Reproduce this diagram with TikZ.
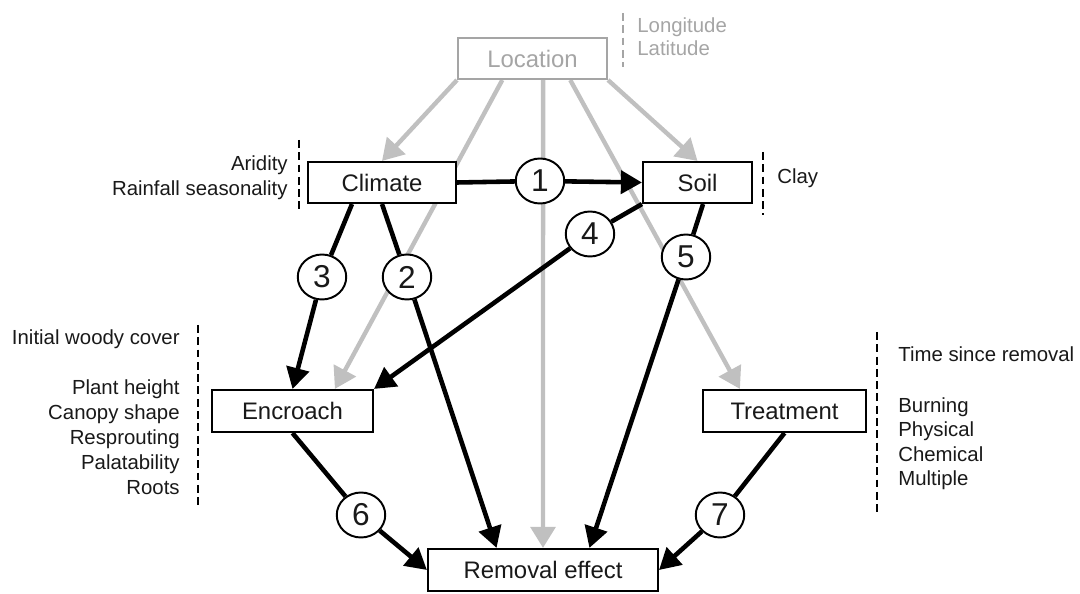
\documentclass[tikz,border=0pt]{standalone}
\usepackage{fontspec}
\setmainfont{Liberation Sans}
\usetikzlibrary{arrows.meta,calc,shapes.geometric}
\pgfdeclarelayer{background}
\pgfsetlayers{background,main}
\definecolor{lgrey}{RGB}{192,192,192}
\definecolor{tgrey}{RGB}{165,165,165}
\definecolor{txt}{RGB}{25,25,25}
\begin{document}
\begin{tikzpicture}[x=0.02cm,y=-0.02cm,
 box/.style={draw=black, line width=1.2pt, fill=white, inner sep=0pt, minimum height=0.82cm, font=\fontsize{13.6}{16}\selectfont, text=txt},
 num/.style={ellipse, draw=black, line width=1.1pt, fill=white, minimum width=0.97cm, minimum height=0.9cm, inner sep=0pt, font=\fontsize{18}{20}\selectfont, text=txt},
 blk/.style={line width=2.6pt, draw=black},
 blkarr/.style={blk, -{Triangle[length=12pt,width=13pt]}},
 gry/.style={line width=2.5pt, draw=lgrey},
 gryarr/.style={gry, -{Triangle[length=12pt,width=14pt]}},
 side/.style={inner sep=0pt, font=\fontsize{11.6}{14}\selectfont, text=txt, text height=9pt, text depth=1pt},
 dsh/.style={line width=1.2pt, dash pattern=on 4.5pt off 2.5pt},
]
\useasboundingbox (0,0) rectangle (1080,594);

% boxes
\node[box, draw=tgrey, text=tgrey, minimum width=2.98cm] (location) at (532.5,58.5) {Location};
\node[box, minimum width=2.96cm] (climate) at (382,182.5) {Climate};
\node[box, minimum width=2.18cm] (soil) at (697.5,182.5) {Soil};
\node[box, minimum width=3.22cm, minimum height=0.84cm] (encroach) at (292.5,411) {Encroach};
\node[box, minimum width=3.26cm, minimum height=0.84cm] (treatment) at (784.5,411) {Treatment};
\node[box, minimum width=4.6cm, minimum height=0.84cm] (removal) at (543,570) {Removal effect};

% numbered circles
\node[num] (c1) at (540,181) {1};
\node[num] (c2) at (407,277) {2};
\node[num] (c3) at (322,277) {3};
\node[num] (c4) at (590,234) {4};
\node[num] (c5) at (686,257) {5};
\node[num] (c6) at (361,515) {6};
\node[num] (c7) at (720,515) {7};

\begin{pgfonlayer}{background}
% grey arrows from location
\draw[gryarr] (location.south west) -- (climate.north);
\draw[gryarr] ($(location.south west)!0.3!(location.south east)$) -- ($(encroach.north west)!0.76!(encroach.north east)$);
\draw[gryarr] ($(location.south west)!0.57!(location.south east)$) -- (removal.north);
\draw[gryarr] ($(location.south west)!0.75!(location.south east)$) -- ($(treatment.north west)!0.23!(treatment.north east)$);
\draw[gryarr] (location.south east) -- (soil.north);
% black paths
\draw[blk] (climate.east) -- (c1);
\draw[blkarr] (c1) -- (soil.west);
\draw[blk] ($(climate.south west)!0.3!(climate.south east)$) -- (c3);
\draw[blkarr] (c3) -- (encroach.north);
\draw[blk] (climate.south) -- (c2);
\draw[blkarr] (c2) -- ($(removal.north west)!0.3!(removal.north east)$);
\draw[blk] (soil.south west) -- (c4);
\draw[blkarr] (c4) -- (encroach.north east);
\draw[blk] ($(soil.south west)!0.55!(soil.south east)$) -- (c5);
\draw[blkarr] (c5) -- ($(removal.north west)!0.7!(removal.north east)$);
\draw[blk] (encroach.south) -- (c6);
\draw[blkarr] (c6) -- (removal.west);
\draw[blk] (treatment.south) -- (c7);
\draw[blkarr] (c7) -- (removal.east);
\end{pgfonlayer}

% side texts
\node[side, text=tgrey, anchor=west] (lon) at (637,25) {Longitude};
\node[side, text=tgrey, anchor=west] (lat) at (637,48) {Latitude};
\node[side, anchor=east] (arid) at (288,163) {Aridity};
\node[side, anchor=east] (rain) at (288,188) {Rainfall seasonality};
\node[side, anchor=west] (clay) at (777,176) {Clay};
\node[side, anchor=east] (iwc) at (180,337) {Initial woody cover};
\node[side, anchor=east] (ph) at (180,387) {Plant height};
\node[side, anchor=east] (cs) at (180,412) {Canopy shape};
\node[side, anchor=east] (rs) at (180,437) {Resprouting};
\node[side, anchor=east] (pa) at (180,462) {Palatability};
\node[side, anchor=east] (ro) at (180,487) {Roots};
\node[side, anchor=west] (tsr) at (898,354) {Time since removal};
\node[side, anchor=west] (bu) at (898,405) {Burning};
\node[side, anchor=west] (phy) at (898,429) {Physical};
\node[side, anchor=west] (ch) at (898,454) {Chemical};
\node[side, anchor=west] (mu) at (898,478) {Multiple};

% dashed separators
\draw[dsh, draw=tgrey] (623,13) -- (623,67);
\draw[dsh] (299,140) -- (299,213);
\draw[dsh] (763,152) -- (763,215);
\draw[dsh] (198,325) -- (198,507);
\draw[dsh] (877,332) -- (877,512);
\end{tikzpicture}
\end{document}
